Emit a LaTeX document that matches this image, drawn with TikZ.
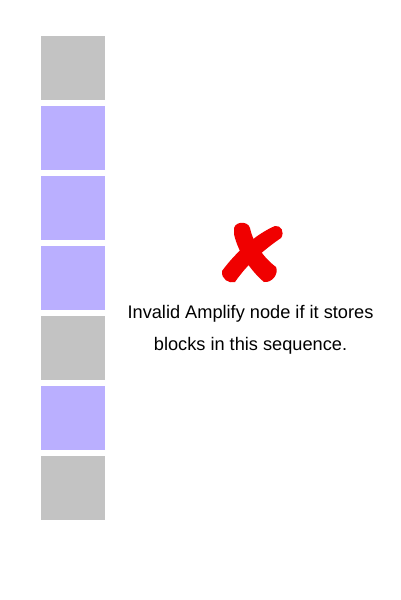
\documentclass[tikz,border=0pt]{standalone}
\usepackage{fontspec}
\setmainfont{Liberation Sans}
\definecolor{blkgray}{HTML}{C3C3C3}
\definecolor{blkpurple}{HTML}{BAAFFF}
\definecolor{xred}{HTML}{F00000}
\begin{document}
\begin{tikzpicture}[x=1pt,y=-1pt,
  blk/.style={minimum width=64pt,minimum height=64pt,inner sep=0pt,outer sep=0pt,anchor=north west},
  graybk/.style={blk,fill=blkgray},
  purplebk/.style={blk,fill=blkpurple},
  caption/.style={align=center,font=\fontsize{18.2}{32}\selectfont,inner sep=0pt}]
\useasboundingbox (0,0) rectangle (400,600);
\fill[white] (0,0) rectangle (400,600);
\node[graybk] (b1) at (41,36) {};
\node[purplebk] (b2) at (41,106) {};
\node[purplebk] (b3) at (41,176) {};
\node[purplebk] (b4) at (41,246) {};
\node[graybk] (b5) at (41,316) {};
\node[purplebk] (b6) at (41,386) {};
\node[graybk] (b7) at (41,456) {};
% red cross
\fill[xred] (234,228) .. controls (236,221) and (248,221) .. (250,228)
  .. controls (253,243) and (264,258) .. (276,267)
  .. controls (279,274) and (272,283) .. (264,282)
  .. controls (252,272) and (238,253) .. (234,234) -- cycle;
\fill[xred] (275,226) .. controls (281,225) and (285,232) .. (281,238)
  .. controls (265,249) and (248,263) .. (235,282)
  .. controls (229,284) and (221,279) .. (222,271)
  .. controls (236,252) and (256,234) .. (275,226) -- cycle;
\node[caption] (t) at (250.5,330) {Invalid Amplify node if it stores\\blocks in this sequence.};
\end{tikzpicture}
\end{document}
